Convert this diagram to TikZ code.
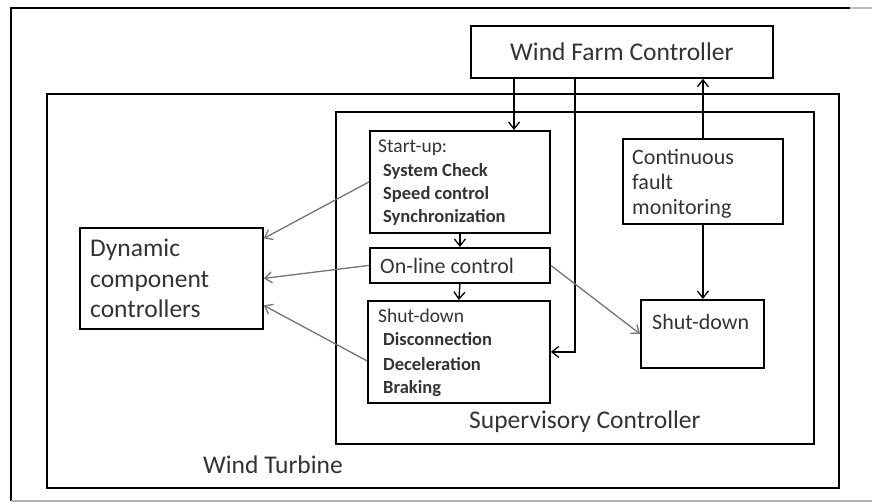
\documentclass[tikz,border=0pt]{standalone}
\usepackage{fontspec}
\setmainfont{Carlito}
\usetikzlibrary{arrows.meta}
\begin{document}
\begin{tikzpicture}[x=1bp,y=-1bp,
  box/.style={draw=black, line width=1.8bp, inner sep=0pt, anchor=north west},
  lbl/.style={anchor=base west, inner sep=0pt, text=black!80},
  arr/.style={line width=1.3bp, -{Straight Barb[length=7bp,width=11bp]}},
  garr/.style={arr, draw=black!55},
  fa/.style={font=\fontsize{25.5bp}{30bp}\selectfont},
  fb/.style={font=\fontsize{22bp}{26bp}\selectfont},
  fc/.style={font=\fontsize{19.5bp}{23bp}\selectfont},
  fd/.style={font=\fontsize{18.5bp}{23bp}\selectfont\bfseries},
]
\useasboundingbox (0,0) rectangle (872,502);
% outer image frame
\draw[line width=2bp, black] (11,501) -- (11,8) -- (850,8);
\draw[line width=1.5bp, black!25] (850,8) -- (872,8);
\draw[line width=1.5bp, black!30] (11,501) -- (872,501);

% containers
\node[box, minimum width=792bp, minimum height=394bp] (wt) at (46,93) {};
\node[box, minimum width=478bp, minimum height=332bp] (sc) at (335,111) {};

% boxes
\node[box, minimum width=302bp, minimum height=52bp, text=black!80, fa] (wfc) at (470,25) {Wind Farm Controller};
\node[box, minimum width=180bp, minimum height=102bp] (su) at (369,130) {};
\node[box, minimum width=180bp, minimum height=35bp] (ol) at (369,247) {};
\node[box, minimum width=182bp, minimum height=102bp] (sdl) at (367,300) {};
\node[box, minimum width=160bp, minimum height=85bp] (cfm) at (622,138) {};
\node[box, minimum width=123bp, minimum height=68bp] (sdr) at (640,299) {};
\node[box, minimum width=183bp, minimum height=101bp] (dcc) at (79,227) {};

% texts
\node[lbl, fa] (tsc) at (469,428) {Supervisory Controller};
\node[lbl, fa] (twt) at (203,473) {Wind Turbine};

\node[lbl, fc] (su1) at (378,153) {Start-up:};
\node[lbl, fd] (su2) at (383,177) {System Check};
\node[lbl, fd] (su3) at (383,200) {Speed control};
\node[lbl, fd] (su4) at (383,223) {Synchronization};

\node[lbl, fb] (tol) at (380,274) {On-line control};

\node[lbl, fc] (sd1) at (378,323) {Shut-down};
\node[lbl, fd] (sd2) at (383,346) {Disconnection};
\node[lbl, fd] (sd3) at (383,370) {Deceleration};
\node[lbl, fd] (sd4) at (383,393) {Braking};

\node[lbl, fb] (cf1) at (632,165) {Continuous};
\node[lbl, fb] (cf2) at (632,190) {fault};
\node[lbl, fb] (cf3) at (632,215) {monitoring};

\node[lbl, fb] (tsr) at (652,330) {Shut-down};

\node[lbl, fa] (dc1) at (90,257) {Dynamic};
\node[lbl, fa] (dc2) at (90,288) {component};
\node[lbl, fa] (dc3) at (90,318) {controllers};

% connectors
\draw[arr] ([xshift=44bp]wfc.south west) -- ([xshift=44bp]wfc.south west |- su.north);
\draw[arr] ([xshift=105bp]wfc.south west) |- (sdl.east);
\draw[arr] (cfm.north) -- (cfm.north |- wfc.south);
\draw[arr] (cfm.south) -- (cfm.south |- sdr.north);
\draw[arr] (su.south) -- (ol.north);
\draw[arr] (ol.south) -- (sdl.north);
\draw[garr] (ol.east) -- (sdr.west);
\draw[garr] (su.west) -- ([yshift=40bp]dcc.east);
\draw[garr] (ol.west) -- (dcc.east);
\draw[garr] ([yshift=-9bp]sdl.west) -- ([yshift=-27bp]dcc.east);
\end{tikzpicture}
\end{document}
